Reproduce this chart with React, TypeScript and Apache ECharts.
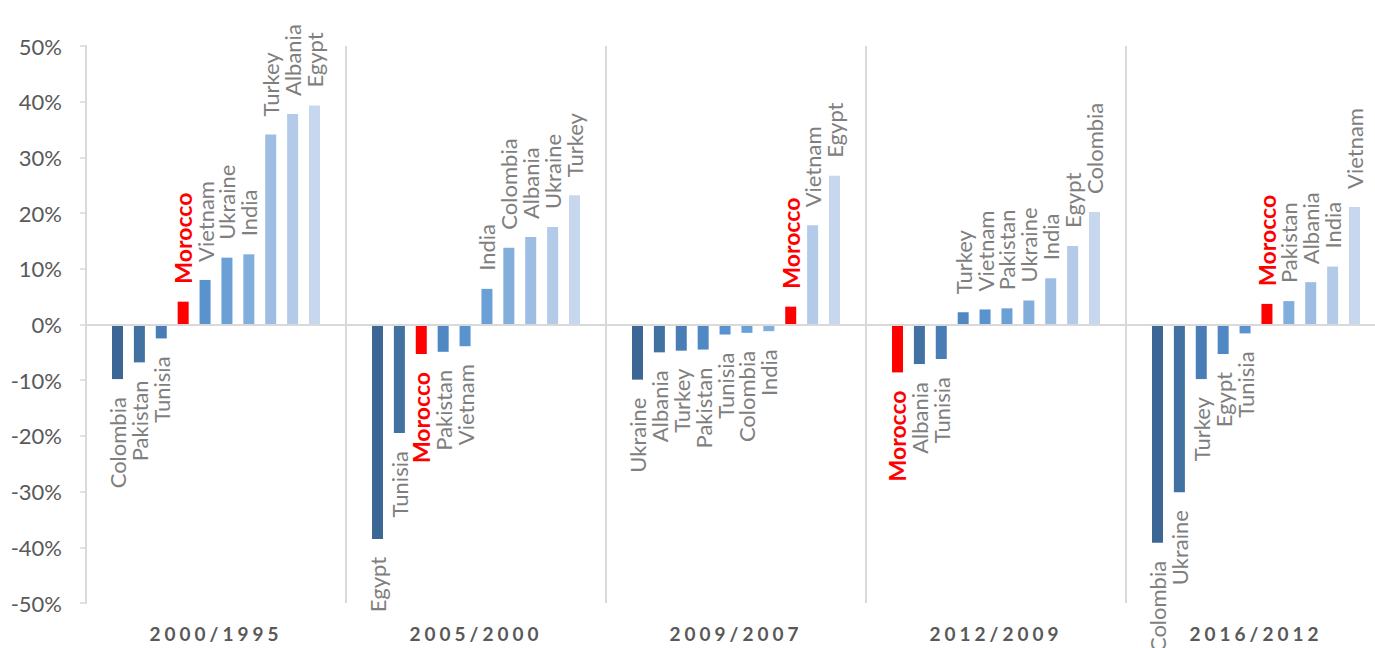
import React, { useEffect, useRef } from "react";
import * as echarts from "echarts";

// Period comparisons shown along the bottom
const periods = ["2000/1995", "2005/2000", "2009/2007", "2012/2009", "2016/2012"];

// Countries in ascending order of growth for each period, with their growth (%)
const countries2000 = ["Colombia", "Pakistan", "Tunisia", "Morocco", "Vietnam", "Ukraine", "India", "Turkey", "Albania", "Egypt"];
const growth2000 = [-9.8, -6.8, -2.5, 4.1, 8.0, 12.0, 12.6, 34.1, 37.8, 39.3];

const countries2005 = ["Egypt", "Tunisia", "Morocco", "Pakistan", "Vietnam", "India", "Colombia", "Albania", "Ukraine", "Turkey"];
const growth2005 = [-38.5, -19.5, -5.3, -4.9, -3.9, 6.4, 13.8, 15.7, 17.5, 23.2];

const countries2009 = ["Ukraine", "Albania", "Turkey", "Pakistan", "Tunisia", "Colombia", "India", "Morocco", "Vietnam", "Egypt"];
const growth2009 = [-9.9, -5.0, -4.7, -4.5, -1.8, -1.5, -1.2, 3.2, 17.8, 26.7];

const countries2012 = ["Morocco", "Albania", "Tunisia", "Turkey", "Vietnam", "Pakistan", "Ukraine", "India", "Egypt", "Colombia"];
const growth2012 = [-8.6, -7.1, -6.2, 2.2, 2.7, 2.9, 4.3, 8.3, 14.1, 20.2];

const countries2016 = ["Colombia", "Ukraine", "Turkey", "Egypt", "Tunisia", "Morocco", "Pakistan", "Albania", "India", "Vietnam"];
const growth2016 = [-39.2, -30.1, -9.8, -5.3, -1.6, 3.7, 4.2, 7.6, 10.4, 21.1];

// Y-axis range (%)
const yMin = -50;
const yMax = 50;
const yStep = 10;

const highlight = "Morocco";

// Rank shades, darkest for the lowest growth
const rankColors = [
  "#3c6794", "#4272a2", "#497db5", "#5088c3", "#5993ce",
  "#6aa0d6", "#82aedc", "#9dbde3", "#b3cbe9", "#c7d7ee",
];

const groupNames = [countries2000, countries2005, countries2009, countries2012, countries2016];
const groupValues = [growth2000, growth2005, growth2009, growth2012, growth2016];

const FONT = "Lato, 'Open Sans', sans-serif";

export default function App() {
  const ref = useRef<HTMLDivElement>(null);

  useEffect(() => {
    if (!ref.current) return;
    const chart = echarts.init(ref.current, null, { renderer: "svg" });

    const series = rankColors.map((color, r) => ({
      type: "bar",
      name: "rank" + (r + 1),
      barWidth: 11,
      barGap: "99%",
      itemStyle: { color },
      data: periods.map((_, g) => {
        const value = groupValues[g][r];
        const name = groupNames[g][r];
        const isHi = name === highlight;
        return {
          value,
          itemStyle: isHi ? { color: "#ff0000" } : undefined,
          label: {
            show: true,
            position: value >= 0 ? "top" : "bottom",
            rotate: 90,
            align: value >= 0 ? "left" : "right",
            verticalAlign: "middle",
            distance: 18,
            fontFamily: FONT,
            fontSize: isHi ? 23 : 22,
            fontWeight: isHi ? "bold" : "normal",
            color: isHi ? "#ff0000" : "#7f7f7f",
            formatter: () => name,
          },
        };
      }),
      markLine:
        r === 0
          ? {
              silent: true,
              symbol: "none",
              label: { show: false },
              lineStyle: { color: "#d9d9d9", width: 2, type: "solid" },
              data: [{ yAxis: 0 }],
            }
          : undefined,
    }));

    chart.setOption({
      animation: false,
      backgroundColor: "#ffffff",
      grid: { left: 86, top: 46, width: 1300, height: 557, outerBoundsMode: "none" },
      xAxis: {
        type: "category",
        data: periods,
        axisLine: { show: false },
        axisTick: { show: false },
        splitLine: { show: true, lineStyle: { color: "#d9d9d9", width: 2 } },
        axisLabel: {
          margin: 21,
          fontFamily: FONT,
          fontSize: 19,
          fontWeight: "bold",
          color: "#595959",
        },
      },
      yAxis: {
        type: "value",
        min: yMin,
        max: yMax,
        interval: yStep,
        axisLine: { show: true, lineStyle: { color: "#d9d9d9", width: 2 } },
        axisTick: { show: true, length: 6, lineStyle: { color: "#d9d9d9", width: 1.5 } },
        splitLine: { show: false },
        axisLabel: {
          margin: 24,
          fontFamily: FONT,
          fontSize: 22,
          color: "#595959",
          formatter: "{value}%",
        },
      },
      series,
    });

    // widen the tracking of the period captions
    const svg = ref.current.querySelector("svg");
    if (svg) {
      svg.querySelectorAll("text").forEach((t) => {
        if (periods.includes((t.textContent || "").trim())) {
          t.setAttribute("letter-spacing", "4");
        }
      });
    }

    return () => chart.dispose();
  }, []);

  return (
    <div
      ref={ref}
      style={{ position: "fixed", left: 0, top: 0, width: 1375, height: 648, background: "#fff" }}
    />
  );
}
